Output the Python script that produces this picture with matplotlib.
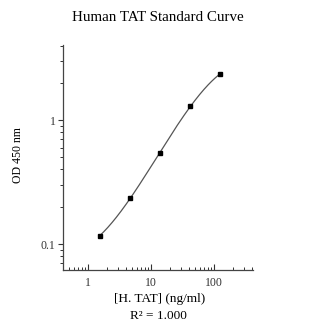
import matplotlib
matplotlib.use("Agg")
import matplotlib.pyplot as plt
import numpy as np
from matplotlib.ticker import LogLocator, NullFormatter, FuncFormatter

# Standard curve data (3-fold dilutions)
conc = [1.543, 4.63, 13.89, 41.67, 125.0]   # ng/ml
od = [0.117, 0.236, 0.542, 1.30, 2.36]       # OD 450 nm

title = "Human TAT Standard Curve"
xlabel = "[H. TAT] (ng/ml)"
ylabel = "OD 450 nm"
r2_text = "R² = 1.000"

plt.rcParams['font.family'] = ['Liberation Serif', 'DejaVu Serif']

fig = plt.figure(figsize=(3.09, 3.27), dpi=100)
ax = fig.add_axes([0.204, 0.174, 0.615, 0.688])

# smooth fit curve in log-log space
lx = np.log10(conc)
ly = np.log10(od)
coef = np.polyfit(lx, ly, 3)
xs = np.linspace(lx[0], lx[-1], 200)
ax.plot(10 ** xs, 10 ** np.polyval(coef, xs), color="#555555", lw=0.9)
ax.plot(conc, od, "s", color="black", ms=2.8)

ax.set_xscale("log")
ax.set_yscale("log")
ax.set_xlim(0.4, 415)
ax.set_ylim(0.0617, 4.03)

for s in ["top", "right"]:
    ax.spines[s].set_visible(False)
for s in ["left", "bottom"]:
    ax.spines[s].set_color("#444444")
    ax.spines[s].set_linewidth(0.9)

fmt = FuncFormatter(lambda v, p: ("%g" % v))
ax.xaxis.set_major_locator(LogLocator(base=10, numticks=10))
ax.xaxis.set_minor_locator(LogLocator(base=10, subs=np.arange(2, 10), numticks=10))
ax.xaxis.set_major_formatter(fmt)
ax.xaxis.set_minor_formatter(NullFormatter())
ax.yaxis.set_major_locator(LogLocator(base=10, numticks=10))
ax.yaxis.set_minor_locator(LogLocator(base=10, subs=np.arange(2, 10), numticks=10))
ax.yaxis.set_major_formatter(fmt)
ax.yaxis.set_minor_formatter(NullFormatter())

ax.tick_params(axis="x", which="major", direction="in", length=4, width=0.8, labelsize=8.5, colors="#333333", pad=5)
ax.tick_params(axis="x", which="minor", direction="in", length=2.5, width=0.7, colors="#333333")
ax.tick_params(axis="y", which="major", direction="out", length=3.5, width=0.8, labelsize=8.5, colors="#333333", pad=2)
ax.tick_params(axis="y", which="minor", direction="out", length=2.5, width=0.7, colors="#333333")

fig.text(0.512, 0.948, title, ha="center", va="center", fontsize=10.8)
fig.text(0.058, 0.526, ylabel, ha="center", va="center", rotation=90, fontsize=8.5)
fig.text(0.515, 0.086, xlabel, ha="center", va="center", fontsize=9.5)
fig.text(0.512, 0.034, r2_text, ha="center", va="center", fontsize=9.5)

fig.savefig("out.png", dpi=100)
